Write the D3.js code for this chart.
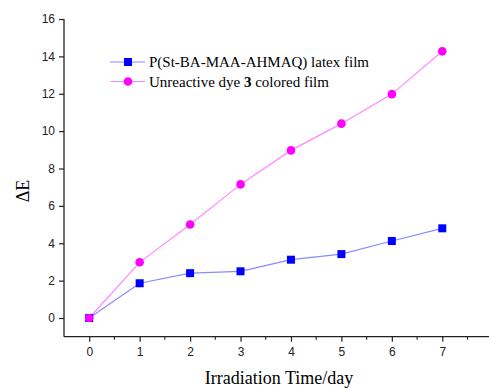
<!DOCTYPE html>
<html>
<head>
<meta charset="utf-8">
<script src="https://d3js.org/d3.v7.min.js"></script>
<style>
  body { margin: 0; background: #fff; }
</style>
</head>
<body>
<svg id="chart" width="489" height="388"></svg>
<script>
// data
var days = [0, 1, 2, 3, 4, 5, 6, 7];
var latexFilm = [0, 1.86, 2.4, 2.5, 3.12, 3.42, 4.12, 4.8];
var dyeFilm = [0, 2.98, 5.0, 7.15, 8.97, 10.4, 11.98, 14.27];
var yTicks = [0, 2, 4, 6, 8, 10, 12, 14, 16];
var xTicks = [0, 1, 2, 3, 4, 5, 6, 7];

var svg = d3.select("#chart");

// scales
var x = d3.scaleLinear().domain([-0.5, 7.5]).range([64, 467.5]);
var y = d3.scaleLinear().domain([-1, 16]).range([336.7, 19]);

var tickFont = "Liberation Sans, Arial, sans-serif";
var serif = "Liberation Serif, Times New Roman, serif";

// left axis
var yAxis = svg.append("g")
  .attr("transform", "translate(64,0)")
  .call(d3.axisLeft(y).tickValues(yTicks).tickSize(5).tickPadding(4).tickSizeOuter(0));
yAxis.select(".domain").attr("d", "M0," + y(-1) + "V" + y(16)).attr("stroke", "#222").attr("stroke-width", 1.3);
yAxis.selectAll(".tick line").attr("stroke", "#222").attr("stroke-width", 1.2);
yAxis.selectAll("text").attr("font-family", tickFont).attr("font-size", 12).attr("fill", "#222");

// bottom axis (runs to the edge of the picture)
var xAxis = svg.append("g")
  .attr("transform", "translate(0," + y(-1) + ")")
  .call(d3.axisBottom(x).tickValues(xTicks).tickSize(5).tickPadding(6).tickSizeOuter(0));
xAxis.select(".domain").attr("d", "M64,0H489").attr("stroke", "#222").attr("stroke-width", 1.3);
xAxis.selectAll(".tick line").attr("stroke", "#222").attr("stroke-width", 1.2);
xAxis.selectAll("text").attr("font-family", tickFont).attr("font-size", 12).attr("fill", "#222");

// minor x ticks
svg.append("g").selectAll("line")
  .data([0.5, 1.5, 2.5, 3.5, 4.5, 5.5, 6.5, 7.5])
  .enter().append("line")
  .attr("x1", d => x(d)).attr("x2", d => x(d))
  .attr("y1", y(-1)).attr("y2", y(-1) + 3)
  .attr("stroke", "#222").attr("stroke-width", 1.1);

// axis titles
svg.append("text")
  .attr("transform", "translate(29," + y(6.8) + ") rotate(-90)")
  .attr("text-anchor", "middle")
  .attr("font-family", serif).attr("font-size", 18)
  .text("ΔE");

svg.append("text")
  .attr("x", 279).attr("y", 384)
  .attr("text-anchor", "middle")
  .attr("font-family", serif).attr("font-size", 18)
  .text("Irradiation Time/day");

// lines
var line = d3.line().x((d, i) => x(days[i])).y(d => y(d));

svg.append("path").datum(latexFilm)
  .attr("d", line).attr("fill", "none")
  .attr("stroke", "#8a8aff").attr("stroke-width", 1.2);

svg.append("path").datum(dyeFilm)
  .attr("d", line).attr("fill", "none")
  .attr("stroke", "#ff88ff").attr("stroke-width", 1.2);

// markers
svg.append("g").selectAll("rect")
  .data(latexFilm).enter().append("rect")
  .attr("x", (d, i) => x(days[i]) - 4).attr("y", d => y(d) - 4)
  .attr("width", 8).attr("height", 8)
  .attr("fill", "#0000ff");

svg.append("g").selectAll("circle")
  .data(dyeFilm).enter().append("circle")
  .attr("cx", (d, i) => x(days[i])).attr("cy", d => y(d))
  .attr("r", 4.3)
  .attr("fill", "#ff00ff");

// legend
var legend = svg.append("g").attr("font-family", serif).attr("font-size", 15);

legend.append("line").attr("x1", 110).attr("x2", 145).attr("y1", 62).attr("y2", 62)
  .attr("stroke", "#8a8aff").attr("stroke-width", 1.2);
legend.append("rect").attr("x", 124).attr("y", 58).attr("width", 8).attr("height", 8).attr("fill", "#0000ff");
legend.append("text").attr("x", 149).attr("y", 67).text("P(St-BA-MAA-AHMAQ) latex film");

legend.append("line").attr("x1", 110).attr("x2", 145).attr("y1", 81.5).attr("y2", 81.5)
  .attr("stroke", "#ff88ff").attr("stroke-width", 1.2);
legend.append("circle").attr("cx", 128).attr("cy", 81.5).attr("r", 4.3).attr("fill", "#ff00ff");
var t2 = legend.append("text").attr("x", 149).attr("y", 86.5);
t2.append("tspan").text("Unreactive dye ");
t2.append("tspan").attr("font-weight", "bold").text("3");
t2.append("tspan").text(" colored film");
</script>
</body>
</html>
